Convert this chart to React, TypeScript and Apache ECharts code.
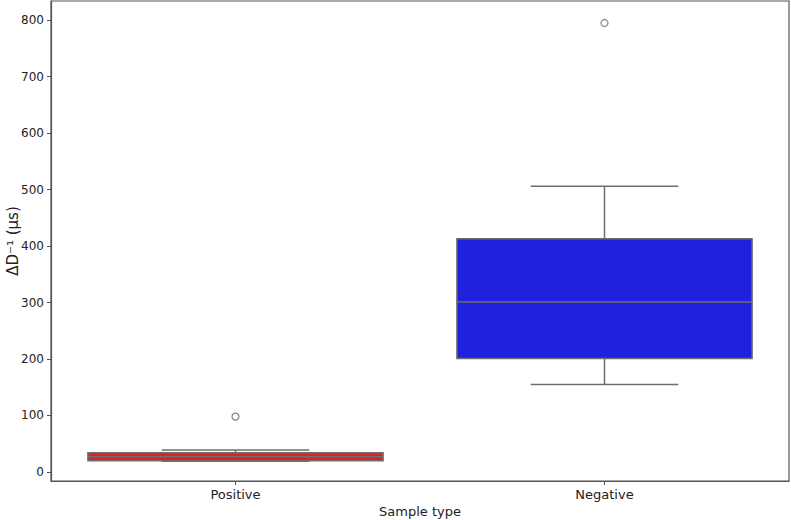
import React, { useEffect, useRef } from "react";
import * as echarts from "echarts";

const categories = ["Positive", "Negative"];
// [min, Q1, median, Q3, max]
const boxStats = [
  [19, 20, 27, 34, 39],
  [155, 201, 301, 413, 506],
];
const outliers = [
  [0, 98],
  [1, 795],
];
const boxColors = ["#df2020", "#2020df"];
const yTicks = [0, 100, 200, 300, 400, 500, 600, 700, 800];

export default function App() {
  const ref = useRef<HTMLDivElement>(null);
  useEffect(() => {
    document.body.style.margin = "0";
    const chart = echarts.init(ref.current!, null, { renderer: "svg" });
    const lineColor = "#6e6e6e";
    const font = "DejaVu Sans";
    chart.setOption({
      animation: false,
      backgroundColor: "#fff",
      grid: {
        left: 51,
        right: 2,
        top: 1,
        bottom: 39,
        containLabel: false,
        outerBoundsMode: "none",
        show: true,
        borderColor: "#555",
        borderWidth: 1.2,
      },
      xAxis: {
        type: "category",
        data: categories,
        name: "Sample type",
        nameLocation: "middle",
        nameGap: 24,
        nameMoveOverlap: false,
        nameTextStyle: { fontFamily: font, fontSize: 13, color: "#222" },
        axisLine: { show: true, onZero: false, lineStyle: { color: "#555", width: 1.2 } },
        axisTick: { show: true, alignWithLabel: true, length: 4, lineStyle: { color: "#555" } },
        axisLabel: { fontFamily: font, fontSize: 13, color: "#222", margin: 7 },
        splitLine: { show: false },
      },
      yAxis: {
        type: "value",
        min: -16,
        max: 834,
        name: "ΔD\u207B\u00B9 (µs)",
        nameLocation: "middle",
        nameGap: 31,
        nameMoveOverlap: false,
        nameTextStyle: { fontFamily: font, fontSize: 15, color: "#222" },
        axisLine: { show: true, onZero: false, lineStyle: { color: "#555", width: 1.2 } },
        axisTick: { show: true, length: 4, customValues: yTicks, lineStyle: { color: "#555" } },
        axisLabel: { fontFamily: font, fontSize: 12, color: "#222", margin: 7, customValues: yTicks },
        splitLine: { show: false },
      },
      series: [
        {
          type: "custom",
          data: boxStats.map((s, i) => [i, ...s]),
          renderItem: (params: any, api: any) => {
            const idx = api.value(0);
            const mn = api.value(1), q1 = api.value(2), md = api.value(3), q3 = api.value(4), mx = api.value(5);
            const band = api.size([1, 0])[0];
            const bw = band * 0.8;
            const cw = band * 0.4;
            const c = api.coord([idx, md]);
            const x = c[0];
            const yQ1 = api.coord([idx, q1])[1];
            const yQ3 = api.coord([idx, q3])[1];
            const yMin = api.coord([idx, mn])[1];
            const yMax = api.coord([idx, mx])[1];
            const ls = { stroke: lineColor, lineWidth: 1.5 };
            return {
              type: "group",
              children: [
                { type: "line", shape: { x1: x, y1: yQ3, x2: x, y2: yMax }, style: ls },
                { type: "line", shape: { x1: x, y1: yQ1, x2: x, y2: yMin }, style: ls },
                { type: "line", shape: { x1: x - cw / 2, y1: yMax, x2: x + cw / 2, y2: yMax }, style: ls },
                { type: "line", shape: { x1: x - cw / 2, y1: yMin, x2: x + cw / 2, y2: yMin }, style: ls },
                {
                  type: "rect",
                  shape: { x: x - bw / 2, y: yQ3, width: bw, height: yQ1 - yQ3 },
                  style: { fill: boxColors[idx], stroke: lineColor, lineWidth: 1.5 },
                },
                { type: "line", shape: { x1: x - bw / 2, y1: c[1], x2: x + bw / 2, y2: c[1] }, style: ls },
              ],
            };
          },
        },
        {
          type: "scatter",
          data: outliers,
          symbol: "circle",
          symbolSize: 7,
          itemStyle: { color: "#fff", borderColor: lineColor, borderWidth: 1.3 },
        },
      ],
    });
    return () => chart.dispose();
  }, []);
  return <div ref={ref} style={{ width: 791, height: 520 }} />;
}
